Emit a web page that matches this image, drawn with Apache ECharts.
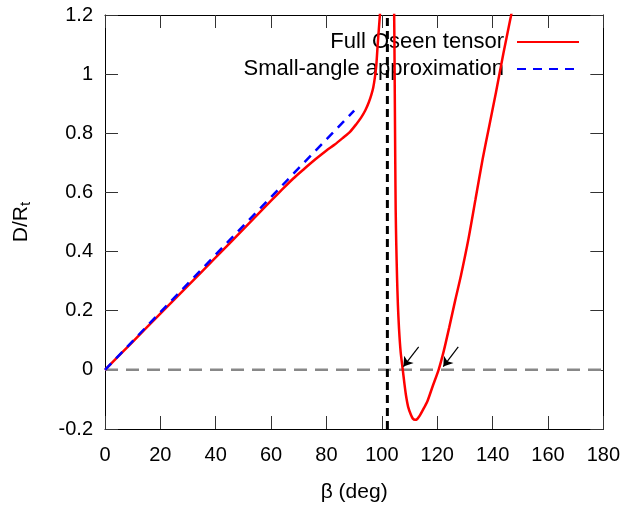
<!DOCTYPE html>
<html>
<head>
<meta charset="utf-8">
<script src="https://cdn.jsdelivr.net/npm/echarts@6/dist/echarts.min.js"></script>
<style>html,body{margin:0;padding:0;background:#fff}#c{width:623px;height:508px}</style>
</head>
<body>
<div id="c"></div>
<script>
// Full Oseen tensor, branch below the singularity
const redBeta1 = [0, 10, 20, 30, 40, 50, 60, 64, 68, 72, 76, 80, 83, 86, 88.5, 90.7, 92.5, 94, 95.3, 96.2, 96.9, 97.5, 98, 98.5, 98.9, 99.3, 99.6];
const redD1    = [0, 0.095, 0.19, 0.285, 0.38, 0.476, 0.572, 0.61, 0.647, 0.68, 0.712, 0.742, 0.762, 0.785, 0.805, 0.83, 0.853, 0.877, 0.905, 0.93, 0.955, 0.99, 1.03, 1.1, 1.15, 1.2, 1.25];
// Full Oseen tensor, branch above the singularity
const redBeta2 = [104.4, 104.55, 104.7, 104.85, 105.0, 105.2, 105.5, 105.8, 106.2, 106.8, 107.5, 108.2, 108.7, 109.5, 110.5, 111.2, 112.0, 112.8, 113.7, 114.7, 116.5, 118.3, 120.5, 122.4, 124.3, 126.5, 128.6, 131.3, 133.8, 136.4, 138.8, 141.2, 143.9, 146.6, 147.2];
const redD2    = [1.25, 1.1, 0.9, 0.7, 0.54, 0.43, 0.31, 0.22, 0.14, 0.06, 0.005, -0.05, -0.085, -0.125, -0.152, -0.165, -0.169, -0.166, -0.155, -0.138, -0.105, -0.057, 0, 0.065, 0.142, 0.235, 0.32, 0.443, 0.575, 0.712, 0.825, 0.937, 1.07, 1.195, 1.225];
// Small-angle approximation
const blueBeta = [0, 90];
const blueD    = [0, 0.877];
// reference lines
const zeroLineBeta = [0, 180];
const singularBeta = 102;
// arrows pointing at the zero crossings: [tailBeta, tailD, headBeta, headD]
const arrows = [[113.3, 0.078, 107.8, 0.011], [127.6, 0.078, 122.2, 0.011]];
const xTicks = [0, 20, 40, 60, 80, 100, 120, 140, 160, 180];
const yTicks = [-0.2, 0, 0.2, 0.4, 0.6, 0.8, 1, 1.2];

const zip = (a, b) => a.map((v, i) => [v, b[i]]);
const FONT = 'Liberation Sans, Arial, sans-serif';
const fmtY = v => String(Math.round(v * 10) / 10);

const chart = echarts.init(document.getElementById('c'), null, {renderer: 'canvas'});
const axisCommon = {
  axisLine: {show: true, onZero: false, lineStyle: {color: '#000', width: 1}},
  axisTick: {show: true, inside: true, length: 13, lineStyle: {color: '#333', width: 1}},
  splitLine: {show: false}
};
chart.setOption({
  animation: false,
  backgroundColor: '#fff',
  grid: {left: 105, right: 19, top: 15, bottom: 77, containLabel: false},
  legend: {
    orient: 'vertical', right: 38, top: 26, align: 'right',
    itemWidth: 62, itemHeight: 21, itemGap: 5,
    itemStyle: {opacity: 0},
    textStyle: {fontFamily: FONT, fontSize: 22, color: '#000', padding: [0, 8, 0, 0]},
    data: ['Full Oseen tensor', 'Small-angle approximation']
  },
  xAxis: [
    Object.assign({}, axisCommon, {
      type: 'value', min: xTicks[0], max: xTicks[xTicks.length - 1], interval: 20, position: 'bottom',
      name: 'β (deg)', nameLocation: 'middle', nameGap: 53,
      nameTextStyle: {fontFamily: FONT, fontSize: 21, color: '#000'},
      axisLabel: {fontFamily: FONT, fontSize: 20, color: '#000', margin: 16}
    }),
    Object.assign({}, axisCommon, {
      type: 'value', min: xTicks[0], max: xTicks[xTicks.length - 1], interval: 20, position: 'top',
      axisLabel: {show: false}
    })
  ],
  yAxis: [
    Object.assign({}, axisCommon, {
      type: 'value', min: yTicks[0], max: yTicks[yTicks.length - 1], interval: 0.2, position: 'left',
      name: '{a|D/R}{s|t}', nameLocation: 'middle', nameGap: 72, nameRotate: 90,
      nameTextStyle: {fontFamily: FONT, fontSize: 21, color: '#000',
        rich: {a: {fontFamily: FONT, fontSize: 21, color: '#000'},
               s: {fontFamily: FONT, fontSize: 15, color: '#000', verticalAlign: 'bottom', padding: [9, 0, 0, 0]}}},
      axisLabel: {fontFamily: FONT, fontSize: 20, color: '#000', margin: 12, formatter: fmtY}
    }),
    Object.assign({}, axisCommon, {
      type: 'value', min: yTicks[0], max: yTicks[yTicks.length - 1], interval: 0.2, position: 'right',
      axisLabel: {show: false}
    })
  ],
  series: [
    {
      name: 'zero', type: 'line', data: zip(zeroLineBeta, [0, 0]), symbol: 'none', silent: true,
      lineStyle: {color: '#888', width: 2.5, type: [13, 8]}, z: 1
    },
    {
      name: 'singular', type: 'line', data: [[singularBeta, yTicks[0]], [singularBeta, yTicks[yTicks.length - 1]]],
      symbol: 'none', silent: true, lineStyle: {color: '#000', width: 3, type: [8, 5]}, z: 2
    },
    {
      name: 'Full Oseen tensor', type: 'line', data: zip(redBeta1, redD1), symbol: 'none',
      smooth: 0.25,
      clip: true, lineStyle: {color: '#ff0000', width: 2.5}, itemStyle: {color: '#ff0000'}, z: 4
    },
    {
      name: 'Full Oseen tensor', type: 'line', data: zip(redBeta2, redD2), symbol: 'none',
      smooth: 0.25,
      clip: true, lineStyle: {color: '#ff0000', width: 2.5}, itemStyle: {color: '#ff0000'}, z: 4
    },
    {
      name: 'Small-angle approximation', type: 'line', data: zip(blueBeta, blueD), symbol: 'none',
      lineStyle: {color: '#0000ff', width: 2.5, type: [9, 7]}, itemStyle: {color: '#0000ff'}, z: 5
    },
    {
      name: 'arrows', type: 'lines', coordinateSystem: 'cartesian2d', silent: true, z: 6,
      symbol: ['none', 'arrow'], symbolSize: 9,
      lineStyle: {color: '#000', width: 1.2, opacity: 1},
      data: arrows.map(a => ({coords: [[a[0], a[1]], [a[2], a[3]]]}))
    }
  ]
});
</script>
</body>
</html>
